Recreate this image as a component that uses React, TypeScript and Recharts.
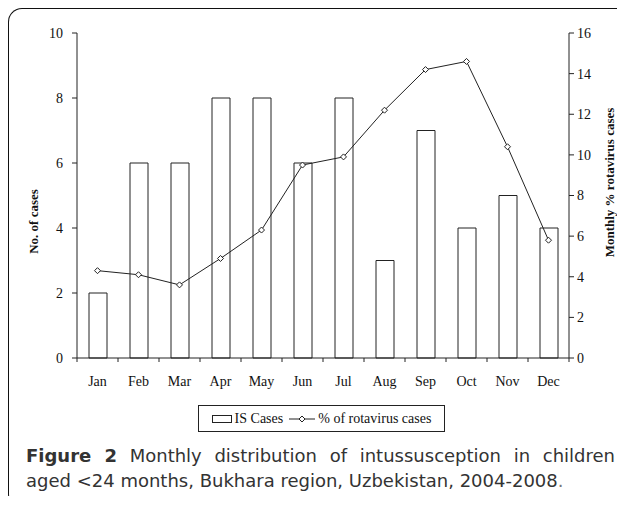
import React from 'react';
import {
  ComposedChart,
  Bar,
  Line,
  XAxis,
  YAxis,
} from 'recharts';

const months = ['Jan', 'Feb', 'Mar', 'Apr', 'May', 'Jun', 'Jul', 'Aug', 'Sep', 'Oct', 'Nov', 'Dec'];
const isCases = [2, 6, 6, 8, 8, 6, 8, 3, 7, 4, 5, 4];
const rotaPct = [4.3, 4.1, 3.6, 4.9, 6.3, 9.5, 9.9, 12.2, 14.2, 14.6, 10.4, 5.8];
const leftTicks = [0, 2, 4, 6, 8, 10];
const rightTicks = [0, 2, 4, 6, 8, 10, 12, 14, 16];

const data = months.map((m, i) => ({ month: m, cases: isCases[i], rota: rotaPct[i] }));

const SERIF = '"Liberation Serif", "Times New Roman", serif';
const SANS = '"DejaVu Sans", Verdana, sans-serif';
const INK = '#222';
const TICK_SIZE = 4;
const TICK_MARGIN = 14;

// 菱形数据点
const Diamond = (props: any) => {
  const { cx, cy } = props;
  if (cx == null || cy == null) return null;
  const r = 3;
  return (
    <path
      d={`M${cx},${cy - r} L${cx + r},${cy} L${cx},${cy + r} L${cx - r},${cy} Z`}
      fill="#fff"
      stroke={INK}
      strokeWidth={1}
    />
  );
};

// x轴刻度：标签在中间，刻度线在分类边界
const MonthTick = (props: any) => {
  const { x, y, payload, index, visibleTicksCount } = props;
  const half = payload?.offset || 20.5;
  const axisY = y - TICK_SIZE - TICK_MARGIN;
  const last = index === (visibleTicksCount ?? 12) - 1;
  return (
    <g>
      <line x1={x - half} y1={axisY} x2={x - half} y2={axisY + 4} stroke={INK} />
      {last && <line x1={x + half} y1={axisY} x2={x + half} y2={axisY + 4} stroke={INK} />}
      <text x={x} y={axisY + 28} textAnchor="middle" fontFamily={SERIF} fontSize={14} fill="#111">
        {payload.value}
      </text>
    </g>
  );
};

const axisTitle = (text: string, dx: number, dy: number) => (p: any) => {
  const vb = p.viewBox;
  const cx = vb.x + dx;
  const cy = vb.y + vb.height / 2 + dy;
  return (
    <text
      x={cx}
      y={cy}
      transform={`rotate(-90 ${cx} ${cy})`}
      textAnchor="middle"
      dominantBaseline="central"
      fontFamily={SERIF}
      fontWeight="bold"
      fontSize={13}
      fill="#111"
    >
      {text}
    </text>
  );
};

const App = () => {
  return (
    <div
      style={{
        position: 'relative',
        width: 617,
        height: 500,
        marginBottom: -12,
        boxSizing: 'border-box',
        borderTop: '1px solid #111',
        borderLeft: '1px solid #111',
        borderBottom: '1px solid #111',
        borderTopLeftRadius: 14,
        borderBottomLeftRadius: 14,
      }}
    >
      <div style={{ position: 'absolute', left: -9, top: -9 }}>
        <ComposedChart
          width={625}
          height={400}
          data={data}
          margin={{ top: 33, right: 0, left: 0, bottom: 0 }}
          barCategoryGap={0}
        >
          <XAxis
            dataKey="month"
            height={42}
            stroke={INK}
            tickLine={false}
            tickSize={TICK_SIZE}
            tickMargin={TICK_MARGIN}
            tick={<MonthTick />}
            interval={0}
          />
          <YAxis
            yAxisId="left"
            width={77}
            domain={[0, 10]}
            ticks={leftTicks}
            stroke={INK}
            tickSize={5}
            tickMargin={9}
            tick={{ fill: '#111', fontFamily: SERIF, fontSize: 14 }}
            label={{ content: axisTitle('No. of cases', 33, 26) }}
          />
          <YAxis
            yAxisId="right"
            orientation="right"
            width={56}
            domain={[0, 16]}
            ticks={rightTicks}
            stroke={INK}
            tickSize={5}
            tickMargin={3}
            tick={{ fill: '#111', fontFamily: SERIF, fontSize: 14 }}
            label={{ content: axisTitle('Monthly % rotavirus cases', 40, -13) }}
          />
          <Bar
            yAxisId="left"
            dataKey="cases"
            name="IS Cases"
            barSize={18}
            fill="#fff"
            stroke={INK}
            strokeWidth={1}
            isAnimationActive={false}
          />
          <Line
            yAxisId="right"
            dataKey="rota"
            name="% of rotavirus cases"
            type="linear"
            stroke={INK}
            strokeWidth={1}
            dot={<Diamond />}
            activeDot={false}
            isAnimationActive={false}
          />
        </ComposedChart>
      </div>

      {/* 图例 */}
      <div
        style={{
          position: 'absolute',
          left: 189,
          top: 396,
          width: 247,
          height: 27,
          boxSizing: 'border-box',
          border: '1px solid #222',
          display: 'flex',
          alignItems: 'center',
          justifyContent: 'center',
          fontFamily: SERIF,
          fontSize: 14,
          color: '#111',
          whiteSpace: 'nowrap',
        }}
      >
        <svg width={20} height={10} style={{ marginRight: 3 }}>
          <rect x={0.5} y={1.5} width={19} height={7} fill="#fff" stroke={INK} />
        </svg>
        <span>IS Cases</span>
        <svg width={26} height={10} style={{ marginLeft: 6, marginRight: 3 }}>
          <line x1={0} y1={5} x2={26} y2={5} stroke={INK} />
          <path d="M13,2 L16,5 L13,8 L10,5 Z" fill="#fff" stroke={INK} />
        </svg>
        <span>% of rotavirus cases</span>
      </div>

      {/* 图注 */}
      <div
        style={{
          position: 'absolute',
          left: 17,
          top: 434,
          width: 589,
          fontFamily: SANS,
          fontSize: 18,
          lineHeight: '25px',
          color: '#333',
        }}
      >
        <div style={{ textAlign: 'justify', textAlignLast: 'justify' }}>
          <span style={{ fontWeight: 'bold' }}>Figure 2</span> Monthly distribution of intussusception in children
        </div>
        <div style={{ whiteSpace: 'nowrap' }}>
          aged &lt;24 months, Bukhara region, Uzbekistan, 2004-2008<span style={{ color: '#777' }}>.</span>
        </div>
      </div>
    </div>
  );
};

export default App;
